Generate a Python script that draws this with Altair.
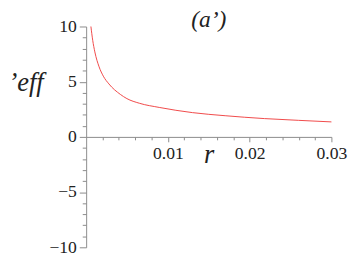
import altair as alt
import pandas as pd

r_vals = [0.00058, 0.0008, 0.00106, 0.00158, 0.0021, 0.00278, 0.00418, 0.00498,
          0.0065, 0.00894, 0.0130, 0.0170, 0.0218, 0.026, 0.030]
v_vals = [10.0, 8.75, 7.7, 6.35, 5.5, 4.8, 3.85, 3.47,
          3.05, 2.67, 2.2, 1.92, 1.66, 1.5, 1.36]

y_ticks = list(range(-10, 11))
x_ticks = [round(0.002 * i, 3) for i in range(1, 16)]

df = pd.DataFrame({"r": r_vals, "v": v_vals})

FONT = "Liberation Serif"
AXC = "#8a8a8a"

x_axis = alt.Axis(
    values=x_ticks,
    offset=-113,
    grid=False,
    domainColor=AXC,
    tickColor=AXC,
    tickSize={"condition": {"test": "abs(datum.value*100 - round(datum.value*100)) < 0.000001", "value": 5}, "value": 3},
    labelExpr="abs(datum.value*100 - round(datum.value*100)) < 0.000001 ? format(datum.value, '.2f') : ''",
    labelFont=FONT,
    labelFontSize=18,
    labelColor="#222222",
    labelPadding=3,
    labelFlush=False,
    labelOverlap=False,
    title="r",
    titleFont=FONT,
    titleFontSize=27,
    titleFontStyle="italic",
    titleFontWeight="normal",
    titleColor="#222222",
    titleAlign="left",
    titleBaseline="alphabetic",
    titleX=120,
    titleY=26,
)

y_axis = alt.Axis(
    values=y_ticks,
    grid=False,
    domainColor=AXC,
    tickColor=AXC,
    tickSize={"condition": {"test": "datum.value % 5 === 0", "value": 7}, "value": 4},
    labelExpr="datum.value % 5 === 0 ? replace(format(datum.value, 'd'), '-', '\u2212') : ''",
    labelFont=FONT,
    labelFontSize=18,
    labelColor="#222222",
    labelPadding=3,
    labelFlush=False,
    labelOverlap=False,
    title="\u2019eff",
    titleFont=FONT,
    titleFontSize=27,
    titleFontStyle="italic",
    titleFontWeight="normal",
    titleColor="#222222",
    titleAngle=0,
    titleAlign="left",
    titleBaseline="alphabetic",
    titleX=-80,
    titleY=66,
)

chart = alt.Chart(df).mark_line(color="#f04848", strokeWidth=1, interpolate="monotone").encode(
    x=alt.X("r:Q", scale=alt.Scale(domain=[0, 0.03], nice=False, zero=False), axis=x_axis),
    y=alt.Y("v:Q", scale=alt.Scale(domain=[-10, 10], nice=False, zero=False), axis=y_axis),
).properties(
    width=251,
    height=226,
    title=alt.TitleParams(
        text="(a\u2019)",
        font=FONT,
        fontSize=24,
        fontStyle="italic",
        fontWeight="normal",
        color="#222222",
        anchor="middle",
        offset=-15,
    ),
    autosize=alt.AutoSizeParams(type="none"),
    padding={"left": 80, "top": 16, "right": 18, "bottom": 8},
).configure_view(stroke=None)

chart.save("out.html", embed_options={"renderer": "svg", "actions": False})
